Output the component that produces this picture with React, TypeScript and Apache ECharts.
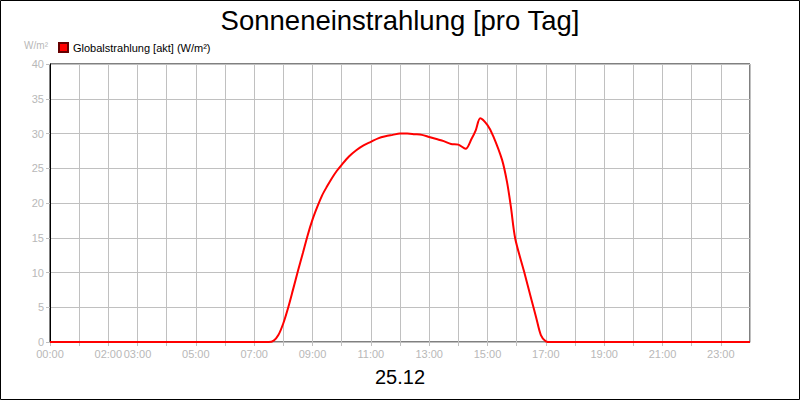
import React, { useRef, useEffect } from 'react';
import * as echarts from 'echarts';

// Stunde des Tages
const hours = [
  0, 7.5, 7.67, 7.83, 8.0, 8.17, 8.33, 8.5, 8.67, 8.83, 9.0, 9.17, 9.33, 9.5, 9.67, 9.83, 10.0,
  10.25, 10.5, 10.75, 11.0, 11.25, 11.5, 11.75, 12.0, 12.25, 12.5, 12.75, 13.0, 13.25, 13.5,
  13.75, 14.0, 14.25, 14.45, 14.6, 14.75, 15.0, 15.2, 15.5, 15.67, 15.8, 15.95, 16.25, 16.5,
  16.67, 16.83, 17.0, 17.17, 24,
];
// Globalstrahlung W/m²
const values = [
  0, 0, 0.2, 1.0, 2.7, 5.0, 7.5, 10.2, 12.8, 15.3, 17.6, 19.5, 21.1, 22.4, 23.6, 24.6, 25.5,
  26.7, 27.6, 28.3, 28.8, 29.3, 29.6, 29.8, 30.0, 30.0, 29.9, 29.8, 29.5, 29.2, 28.9,
  28.5, 28.4, 27.8, 29.2, 30.5, 32.2, 31.2, 29.6, 26.2, 23.0, 19.5, 14.9, 10.2, 6.2,
  3.5, 1.0, 0.1, 0, 0,
];
// beschriftete Stunden auf der x-Achse
const labelHours = [0, 2, 3, 5, 7, 9, 11, 13, 15, 17, 19, 21, 23];

const FONT = '"Liberation Sans", Arial, sans-serif';

const App: React.FC = () => {
  const chartRef = useRef<HTMLDivElement>(null);

  useEffect(() => {
    if (!chartRef.current) return;
    const chart = echarts.init(chartRef.current, undefined, { renderer: 'svg' });

    chart.setOption({
      animation: false,
      backgroundColor: '#fff',
      textStyle: { fontFamily: FONT },
      title: {
        text: 'Sonneneinstrahlung [pro Tag]',
        left: 'center',
        top: 1,
        textStyle: { fontSize: 27.5, fontWeight: 'normal', color: '#000', fontFamily: FONT },
      },
      legend: {
        left: 53,
        top: 37,
        icon: 'rect',
        itemWidth: 9,
        itemHeight: 9,
        itemGap: 4,
        textStyle: { fontSize: 11, color: '#000', fontFamily: FONT },
        data: ['Globalstrahlung [akt] (W/m²)'],
      },
      grid: {
        left: 50,
        right: 50,
        top: 64,
        bottom: 58,
        show: true,
        borderColor: '#000',
        borderWidth: 1,
      },
      xAxis: {
        type: 'value',
        min: 0,
        max: 24,
        interval: 1,
        axisLine: { show: true, lineStyle: { color: '#c0c0c0' } },
        axisTick: { show: true, length: 4, lineStyle: { color: '#c0c0c0' } },
        splitLine: { show: true, lineStyle: { color: '#c0c0c0', width: 1 } },
        axisLabel: {
          color: '#b8b8b8',
          fontSize: 11,
          margin: 6,
          showMaxLabel: false,
          formatter: (v: number) =>
            labelHours.includes(v) ? `${String(v).padStart(2, '0')}:00` : '',
        },
      },
      yAxis: {
        type: 'value',
        min: 0,
        max: 40,
        interval: 5,
        name: 'W/m²',
        nameLocation: 'end',
        nameGap: 14,
        nameTextStyle: { color: '#b8b8b8', fontSize: 10, align: 'right', padding: [0, 2, 0, 0] },
        axisLine: { show: true, lineStyle: { color: '#000' } },
        axisTick: { show: true, length: 4, lineStyle: { color: '#c0c0c0' } },
        splitLine: { show: true, lineStyle: { color: '#c0c0c0', width: 1 } },
        axisLabel: { color: '#b8b8b8', fontSize: 11, margin: 6 },
      },
      series: [
        {
          name: 'Globalstrahlung [akt] (W/m²)',
          type: 'line',
          data: hours.map((h, i) => [h, values[i]]),
          showSymbol: false,
          smooth: 0.3,
          lineStyle: { color: '#ff0000', width: 2 },
          itemStyle: { color: '#ff0000', borderColor: '#600', borderWidth: 1 },
        },
      ],
      graphic: [
        {
          type: 'rect',
          shape: { x: 0.5, y: 0.5, width: 799, height: 399 },
          style: { fill: 'none', stroke: '#000', lineWidth: 1 },
          silent: true,
        },
        {
          type: 'text',
          left: 'center',
          top: 367,
          style: { text: '25.12', fontSize: 20, fill: '#000', fontFamily: FONT },
        },
      ],
    });

    return () => {
      chart.dispose();
    };
  }, []);

  return (
    <div
      ref={chartRef}
      style={{ position: 'fixed', left: 0, top: 0, width: 800, height: 400 }}
    />
  );
};

export default App;
